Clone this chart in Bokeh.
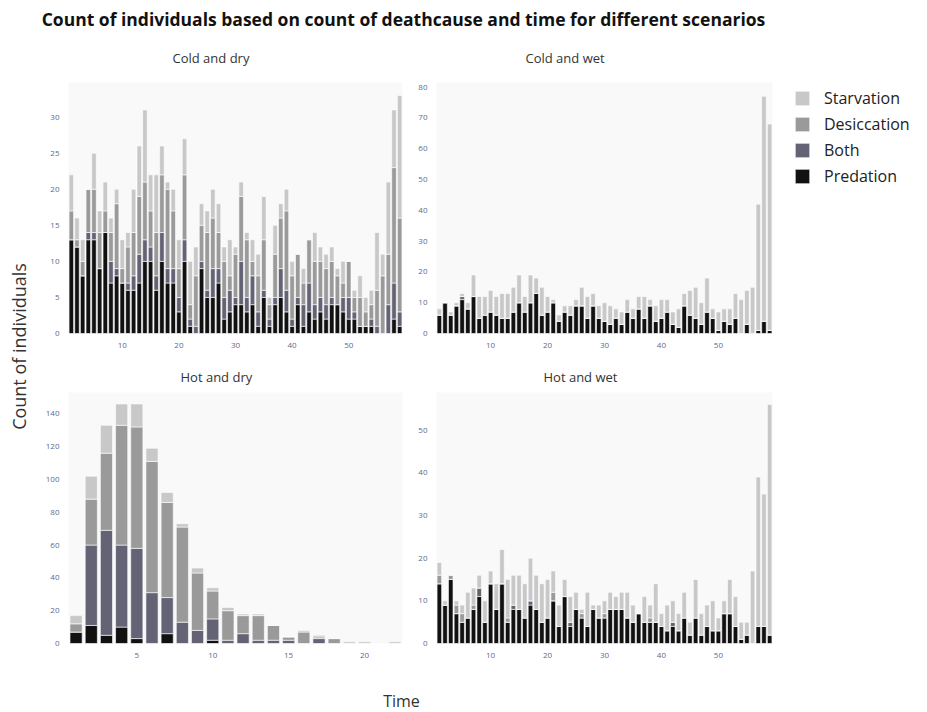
from math import pi
from bokeh.plotting import figure
from bokeh.models import (Range1d, Label, Legend, LegendItem, FixedTicker, Title,
                          ColumnDataSource)
from bokeh.layouts import row, column
from bokeh.embed import file_html
from bokeh.resources import INLINE

# ---------------- data ----------------
causes = ["Predation", "Both", "Desiccation", "Starvation"]
legend_order = ["Starvation", "Desiccation", "Both", "Predation"]
cause_colors = ["#111111", "#636375", "#9a9a9a", "#c8c8c8"]

main_title = "Count of individuals based on count of deathcause and time for different scenarios"
y_label = "Count of individuals"
x_label = "Time"

# Cold and dry
cd_time = list(range(1, 60))
cd_predation = [13, 12, 8, 13, 13, 9, 14, 7, 8, 7, 6, 6, 7, 10, 10, 6, 10, 7, 7, 3,
                10, 1, 0, 9, 5, 5, 7, 2, 3, 4, 4, 3, 4, 1, 5, 1, 4, 5, 3, 1,
                4, 1, 3, 2, 3, 2, 4, 4, 3, 2, 2, 1, 1, 1, 0, 0, 0, 2, 1]
cd_both = [0, 0, 0, 1, 1, 0, 0, 3, 1, 0, 1, 2, 4, 3, 2, 2, 4, 2, 2, 2,
           3, 1, 1, 1, 1, 4, 2, 3, 3, 1, 6, 2, 4, 2, 1, 1, 1, 4, 3, 1,
           1, 3, 4, 2, 2, 2, 1, 0, 2, 3, 1, 0, 0, 1, 1, 0, 4, 5, 2]
cd_desiccation = [4, 1, 2, 6, 6, 5, 3, 4, 9, 2, 5, 6, 8, 8, 5, 6, 8, 11, 8, 4,
                  9, 2, 7, 5, 8, 7, 5, 5, 2, 6, 9, 8, 2, 5, 7, 2, 6, 7, 11, 6,
                  6, 3, 6, 6, 5, 5, 5, 4, 2, 5, 2, 4, 2, 2, 5, 8, 7, 16, 13]
cd_starvation = [5, 3, 3, 0, 5, 3, 4, 2, 2, 4, 2, 6, 7, 10, 5, 8, 4, 1, 3, 4,
                 5, 6, 4, 3, 3, 4, 4, 2, 5, 1, 2, 1, 3, 3, 6, 1, 4, 2, 3, 2,
                 0, 2, 0, 4, 2, 2, 2, 1, 3, 0, 1, 3, 2, 2, 8, 3, 10, 8, 17]

# Cold and wet
cw_time = list(range(1, 60))
cw_predation = [6, 10, 6, 9, 11, 8, 12, 5, 6, 7, 6, 5, 5, 7, 10, 7, 10, 13, 6, 7,
                10, 4, 7, 6, 9, 9, 5, 9, 5, 4, 3, 5, 3, 7, 5, 8, 5, 9, 4, 5,
                7, 3, 2, 9, 6, 5, 3, 7, 5, 1, 4, 3, 5, 0, 3, 0, 1, 4, 1]
cw_both = [0, 0, 0, 0, 1, 0, 0, 0, 0, 0, 0, 0, 0, 0, 0, 0, 0, 0, 0, 0,
           0, 0, 0, 0, 0, 0, 0, 0, 0, 0, 0, 0, 0, 0, 0, 0, 0, 0, 0, 0,
           0, 0, 0, 0, 0, 0, 0, 0, 0, 0, 0, 0, 0, 0, 0, 0, 0, 0, 0]
cw_desiccation = [0] * 59
cw_starvation = [2, 0, 1, 1, 1, 2, 7, 7, 6, 7, 6, 8, 8, 8, 9, 5, 9, 5, 9, 5,
                 1, 2, 2, 3, 2, 6, 7, 4, 4, 6, 6, 3, 4, 4, 3, 4, 7, 2, 5, 6,
                 4, 4, 6, 4, 8, 10, 7, 11, 3, 6, 4, 5, 8, 11, 11, 15, 41, 73, 67]

# Hot and dry
hd_time = list(range(1, 23))
hd_predation = [7, 11, 5, 10, 3, 0, 6, 0, 0, 2, 0, 0, 0, 0, 0, 0, 0, 0, 0, 0, 0, 0]
hd_both = [0, 49, 64, 50, 55, 31, 22, 13, 8, 13, 2, 6, 2, 2, 2, 0, 3, 0, 0, 0, 0, 0]
hd_desiccation = [5, 28, 47, 73, 74, 80, 58, 58, 35, 17, 18, 11, 15, 9, 2, 7, 1, 3, 0, 0, 0, 0]
hd_starvation = [5, 14, 17, 13, 14, 8, 6, 2, 3, 2, 2, 1, 1, 0, 0, 1, 1, 0, 1, 1, 0, 1]

# Hot and wet
hw_time = list(range(1, 60))
hw_predation = [14, 9, 15, 7, 5, 6, 8, 11, 5, 14, 8, 14, 5, 8, 8, 6, 9, 8, 5, 6,
                10, 4, 11, 4, 8, 6, 4, 8, 6, 6, 8, 8, 8, 6, 5, 7, 5, 5, 5, 4,
                3, 4, 3, 6, 2, 6, 2, 4, 3, 3, 7, 7, 4, 1, 2, 0, 4, 4, 2]
hw_both = [0, 0, 0, 0, 0, 0, 0, 2, 0, 0, 0, 0, 0, 1, 0, 0, 1, 0, 0, 0,
           0, 0, 0, 1, 0, 0, 0, 0, 0, 0, 0, 0, 0, 0, 0, 0, 0, 0, 0, 0,
           0, 1, 0, 0, 0, 0, 0, 0, 0, 0, 0, 0, 0, 0, 0, 0, 0, 0, 0]
hw_desiccation = [2, 0, 1, 2, 2, 0, 1, 0, 0, 0, 0, 0, 1, 0, 0, 0, 0, 0, 0, 0,
                  2, 0, 0, 0, 0, 1, 0, 0, 0, 1, 0, 0, 0, 0, 0, 0, 0, 1, 0, 0,
                  0, 0, 0, 0, 0, 0, 0, 0, 0, 0, 0, 0, 0, 0, 0, 0, 0, 0, 0]
hw_starvation = [3, 1, 0, 1, 2, 6, 4, 3, 5, 3, 6, 8, 9, 7, 8, 8, 10, 8, 9, 9,
                 5, 5, 4, 6, 4, 1, 8, 1, 3, 3, 4, 3, 4, 6, 4, 0, 6, 3, 9, 3,
                 6, 5, 4, 6, 3, 9, 5, 5, 7, 3, 3, 8, 7, 4, 3, 17, 35, 31, 54]

panel_titles = ["Cold and dry", "Cold and wet", "Hot and dry", "Hot and wet"]
cd_xticks = [10, 20, 30, 40, 50]
cd_yticks = [0, 5, 10, 15, 20, 25, 30]
cw_yticks = [0, 10, 20, 30, 40, 50, 60, 70, 80]
hd_xticks = [5, 10, 15, 20]
hd_yticks = [0, 20, 40, 60, 80, 100, 120, 140]
hw_yticks = [0, 10, 20, 30, 40, 50]

FONT = "Open Sans"
TICK_COLOR = "#5b6b8c"


def make_panel(title, t, pred, both, desi, starv, xr, yr, xticks, yticks,
               w, h, bl, bt, bb, br, toff, tstand):
    p = figure(width=w, height=h, x_range=Range1d(*xr), y_range=Range1d(*yr),
               output_backend="svg", toolbar_location=None,
               min_border_left=bl, min_border_top=bt, min_border_bottom=bb,
               min_border_right=br, background_fill_color="#f9f9f9",
               border_fill_color="white", outline_line_color=None)
    p.title = Title(text=title, align="left", offset=toff, standoff=tstand,
                    text_font=FONT, text_font_size="13px",
                    text_font_style="normal", text_color="#333333")
    src = ColumnDataSource(dict(t=t, Predation=pred, Both=both,
                                Desiccation=desi, Starvation=starv))
    rs = p.vbar_stack(causes, x="t", width=0.8, color=cause_colors,
                      line_color="white", line_width=0.6, source=src)
    p.grid.visible = False
    for ax, ticks in ((p.xaxis, xticks), (p.yaxis, yticks)):
        ax.ticker = FixedTicker(ticks=ticks)
        ax.axis_line_color = None
        ax.major_tick_line_color = None
        ax.minor_tick_line_color = None
        ax.major_label_text_font = FONT
        ax.major_label_text_font_size = "8px"
        ax.major_label_text_color = TICK_COLOR
        ax.major_label_standoff = 3
    return p, rs


p1, r1 = make_panel(panel_titles[0], cd_time, cd_predation, cd_both, cd_desiccation,
                    cd_starvation, (0.5, 59.5), (0, 34.8), cd_xticks, cd_yticks,
                    367, 320, 28, 50, 16, 5, 104, 32)
p2, r2 = make_panel(panel_titles[1], cw_time, cw_predation, cw_both, cw_desiccation,
                    cw_starvation, (0.5, 59.5), (0, 81.5), cd_xticks, cw_yticks,
                    370, 320, 29, 50, 16, 5, 89, 32)
p3, r3 = make_panel(panel_titles[2], hd_time, hd_predation, hd_both, hd_desiccation,
                    hd_starvation, (0.5, 22.5), (0, 153), hd_xticks, hd_yticks,
                    367, 310, 28, 42, 15, 5, 112, 14)
p4, r4 = make_panel(panel_titles[3], hw_time, hw_predation, hw_both, hw_desiccation,
                    hw_starvation, (0.5, 59.5), (0, 58.8), cd_xticks, hw_yticks,
                    370, 310, 29, 42, 15, 5, 107, 14)


def text_fig(w, h, xr, yr, top=0, left=0):
    f = figure(width=w, height=h, x_range=Range1d(*xr), y_range=Range1d(*yr),
               output_backend="svg", toolbar_location=None, min_border=0,
               min_border_top=top, min_border_left=left, x_axis_type=None,
               y_axis_type=None, outline_line_color=None)
    f.grid.visible = False
    return f


# legend panel: swatches come from glyphs placed outside the visible range
leg = text_fig(150, 320, (0, 139), (0, 254), top=50, left=11)
leg_src = ColumnDataSource(dict(t=[-100], Predation=[0], Both=[0],
                                Desiccation=[0], Starvation=[0]))
leg_rs = leg.vbar_stack(causes, x="t", width=0.8, color=cause_colors,
                        line_color="white", line_width=0.6, source=leg_src)
items = [LegendItem(label=name, renderers=[leg_rs[causes.index(name)]])
         for name in legend_order]
legend = Legend(items=items, location="top_left", glyph_width=18, glyph_height=18,
                label_text_font=FONT, label_text_font_size="16px",
                label_text_color="#222222", label_standoff=13, label_height=20,
                spacing=4, padding=0, margin=5, border_line_color=None,
                background_fill_alpha=0)
leg.add_layout(legend, "center")

header = text_fig(887, 30, (40, 927), (30, 0))
header.add_layout(Label(x=403, y=18, text=main_title, text_align="center",
                        text_baseline="middle", text_font=FONT,
                        text_font_size="17.5px", text_font_style="bold",
                        text_color="#111111"))

footer = text_fig(887, 52, (40, 927), (712, 660))
footer.add_layout(Label(x=401, y=700, text=x_label, text_align="center",
                        text_baseline="middle", text_font=FONT,
                        text_font_size="16px", text_color="#333333"))

ylab = text_fig(40, 712, (0, 40), (712, 0))
ylab.add_layout(Label(x=18, y=346, text=y_label, angle=pi / 2, text_align="center",
                      text_baseline="middle", text_font=FONT,
                      text_font_size="18px", text_color="#333333"))

layout = row(ylab, column(header, row(p1, p2, leg), row(p3, p4), footer))

open("out.html", "w").write(file_html(layout, INLINE))
